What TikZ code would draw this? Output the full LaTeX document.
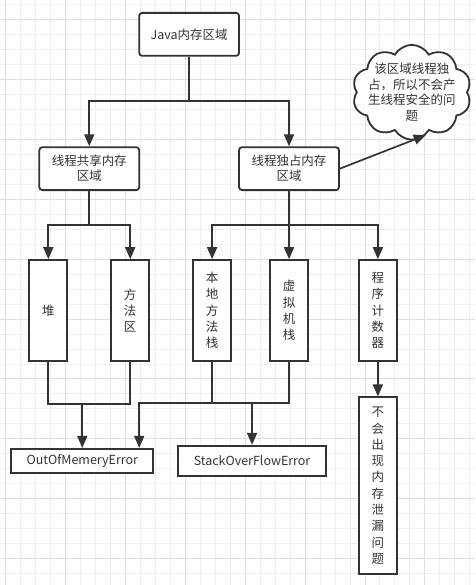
\documentclass[tikz,border=0pt]{standalone}
\usepackage{fontspec}
\setmainfont{Noto Sans CJK SC}
\usetikzlibrary{arrows.meta,shapes.symbols}
\definecolor{ink}{HTML}{333333}
\definecolor{gridminor}{HTML}{EFEFEF}
\definecolor{gridmajor}{HTML}{E0E0E0}

\begin{document}
\begin{tikzpicture}[x=1pt, y=-1pt,
    box/.style={rectangle, draw=ink, line width=1.8pt, fill=white, text=ink,
                align=center, inner sep=0pt, font=\fontsize{12.5}{15}\selectfont},
    rbox/.style={box, rounded corners=3pt, minimum width=100pt, minimum height=43pt},
    tall/.style={box, minimum width=38pt, minimum height=101pt,
                 font=\fontsize{12.5}{16.3}\selectfont},
    arr/.style={-{Triangle[length=12pt,width=10pt]}, draw=ink, line width=1.7pt},
    ln/.style={draw=ink, line width=1.7pt}
]
    % grid background
    \fill[white] (0,0) rectangle (475,585);
    \foreach \x in {5,20,...,470} \draw[gridminor, line width=0.8pt] (\x,0) -- (\x,585);
    \foreach \y in {4,19,...,584} \draw[gridminor, line width=0.8pt] (0,\y) -- (475,\y);
    \foreach \x in {5,65,...,470} \draw[gridmajor, line width=0.8pt] (\x,0) -- (\x,585);
    \foreach \y in {19,79,...,584} \draw[gridmajor, line width=0.8pt] (0,\y) -- (475,\y);
    \useasboundingbox (0,0) rectangle (475,585);

    \node[rbox] (java) at (189,34) {Java内存区域};
    \node[rbox] (shared) at (89,168.5) {线程共享内存\\区域};
    \node[rbox] (own) at (289,168.5) {线程独占内存\\区域};
    \node[cloud, cloud puffs=10, cloud puff arc=120, draw=ink, line width=1.8pt,
          fill=white, minimum width=119pt, minimum height=95pt, inner sep=0pt]
          (note) at (412,92) {};
    \node[text=ink, align=center, font=\fontsize{12.5}{15.5}\selectfont]
          (notetext) at (note.center) {该区域线程独\\占，所以不会产\\生线程安全的问\\题};

    \node[tall] (heap) at (48,310.5) {堆};
    \node[tall] (method) at (130,310.5) {方\\法\\区};
    \node[tall] (native) at (212,310.5) {本\\地\\方\\法\\栈};
    \node[tall] (vmstack) at (289,310.5) {虚\\拟\\机\\栈};
    \node[tall] (pc) at (378,310.5) {程\\序\\计\\数\\器};
    \node[tall, minimum height=177pt] (noleak) at (378,486)
          {不\\会\\出\\现\\内\\存\\泄\\漏\\问\\题};
    \node[box, minimum width=142pt, minimum height=24pt] (oom) at (82,461) {OutOfMemeryError};
    \node[box, minimum width=148pt, minimum height=30pt] (sof) at (252,461) {StackOverFlowError};

    % top level split
    \coordinate (split1) at (189,101);
    \draw[ln] (java) -- (split1);
    \draw[arr] (split1) -| (shared);
    \draw[arr] (split1) -| (own);
    \draw[arr] (own.east) -- (note.-72);

    % shared area
    \coordinate (split2) at (89,225);
    \draw[ln] (shared) -- (split2);
    \draw[arr] (split2) -| (heap);
    \draw[arr] (split2) -| (method);

    % thread-private area
    \coordinate (split3) at (289,225);
    \draw[arr] (own) -- (vmstack);
    \draw[arr] (split3) -| (native);
    \draw[arr] (split3) -| (pc);
    \draw[arr] (pc) -- (noleak);

    % errors
    \coordinate (join1) at (82,404);
    \draw[ln] (heap.south) |- (join1) -| (method.south);
    \draw[arr] (join1) -- (oom);
    \coordinate (join2) at (252,403);
    \draw[ln] (native.south) |- (join2) -| (vmstack.south);
    \draw[arr] (join2) -- (sof);
    \coordinate (turn) at (139,403);
    \draw[arr] (native.south) |- (turn) -- (turn |- oom.north);
\end{tikzpicture}
\end{document}
